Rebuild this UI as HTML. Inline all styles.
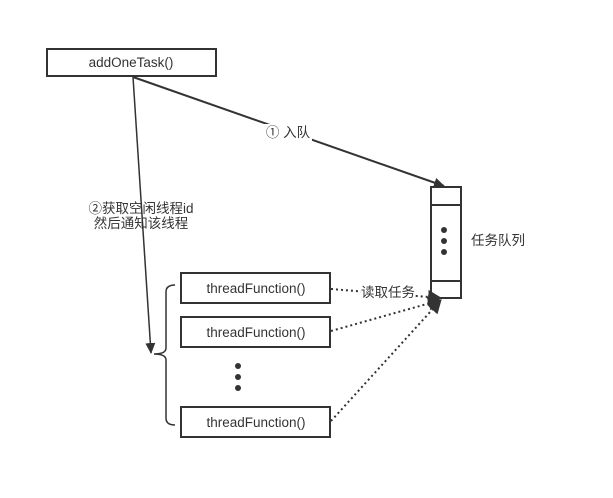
<!DOCTYPE html>
<html><head><meta charset="utf-8"><style>
html,body{margin:0;padding:0;background:#fff;}
</style></head><body>
<svg width="613" height="498" xmlns="http://www.w3.org/2000/svg" style="display:block;font-family:'Liberation Sans','Noto Sans CJK SC',sans-serif;font-size:13.5px;fill:#333">
<defs>
<marker id="a" markerWidth="12" markerHeight="12" refX="10" refY="5" orient="auto" markerUnits="userSpaceOnUse"><path d="M0,0 L11,5 L0,10 Z" fill="#333"/></marker>
<marker id="b" markerWidth="16" markerHeight="16" refX="13" refY="7" orient="auto" markerUnits="userSpaceOnUse"><path d="M0,0 L14,7 L0,14 Z" fill="#333"/></marker>
</defs>
<rect width="613" height="498" fill="#fff"/>
<g stroke="#333" stroke-width="2" fill="#fff">
<rect x="47" y="49" width="169" height="27"/>
<rect x="431" y="187" width="30" height="111"/>
<line x1="431" y1="205" x2="461" y2="205"/>
<line x1="431" y1="281" x2="461" y2="281"/>
<rect x="181" y="273" width="149" height="30"/>
<rect x="181" y="317" width="149" height="30"/>
<rect x="181" y="407" width="149" height="30"/>
</g>
<g fill="#333">
<circle cx="444" cy="230" r="3"/><circle cx="444" cy="241" r="3"/><circle cx="444" cy="252" r="3"/>
<circle cx="238" cy="366" r="3"/><circle cx="238" cy="377" r="3"/><circle cx="238" cy="388" r="3"/>
</g>
<g stroke="#333" stroke-width="2" fill="none">
<line x1="133" y1="77" x2="444" y2="186" marker-end="url(#a)"/>
<line x1="133" y1="77" x2="151" y2="353" marker-end="url(#a)" stroke-width="1.5"/>
<path d="M175,285 Q166,285 166,292 L166,348 Q166,354 154,354 Q166,354 166,360 L166,418 Q166,425 175,425" stroke-width="1.5"/>
</g>
<g stroke="#333" stroke-width="2" stroke-dasharray="2,3" fill="none">
<line x1="331" y1="289" x2="441" y2="298" marker-end="url(#b)"/>
<line x1="331" y1="331" x2="441" y2="300" marker-end="url(#b)"/>
<line x1="331" y1="421" x2="441" y2="300" marker-end="url(#b)"/>
</g>
<rect x="264" y="124" width="48" height="17" fill="#fff"/>
<rect x="361" y="284" width="54" height="17" fill="#fff"/>
<g text-anchor="middle">
<text x="131" y="67">addOneTask()</text>
<text x="256" y="293">threadFunction()</text>
<text x="256" y="337">threadFunction()</text>
<text x="256" y="427">threadFunction()</text>
<text x="288" y="137">① 入队</text>
<text x="388" y="297">读取任务</text>
<text x="141" y="213">②获取空闲线程id</text>
<text x="141" y="228">然后通知该线程</text>
</g>
<text x="471" y="245">任务队列</text>
</svg>
</body></html>
